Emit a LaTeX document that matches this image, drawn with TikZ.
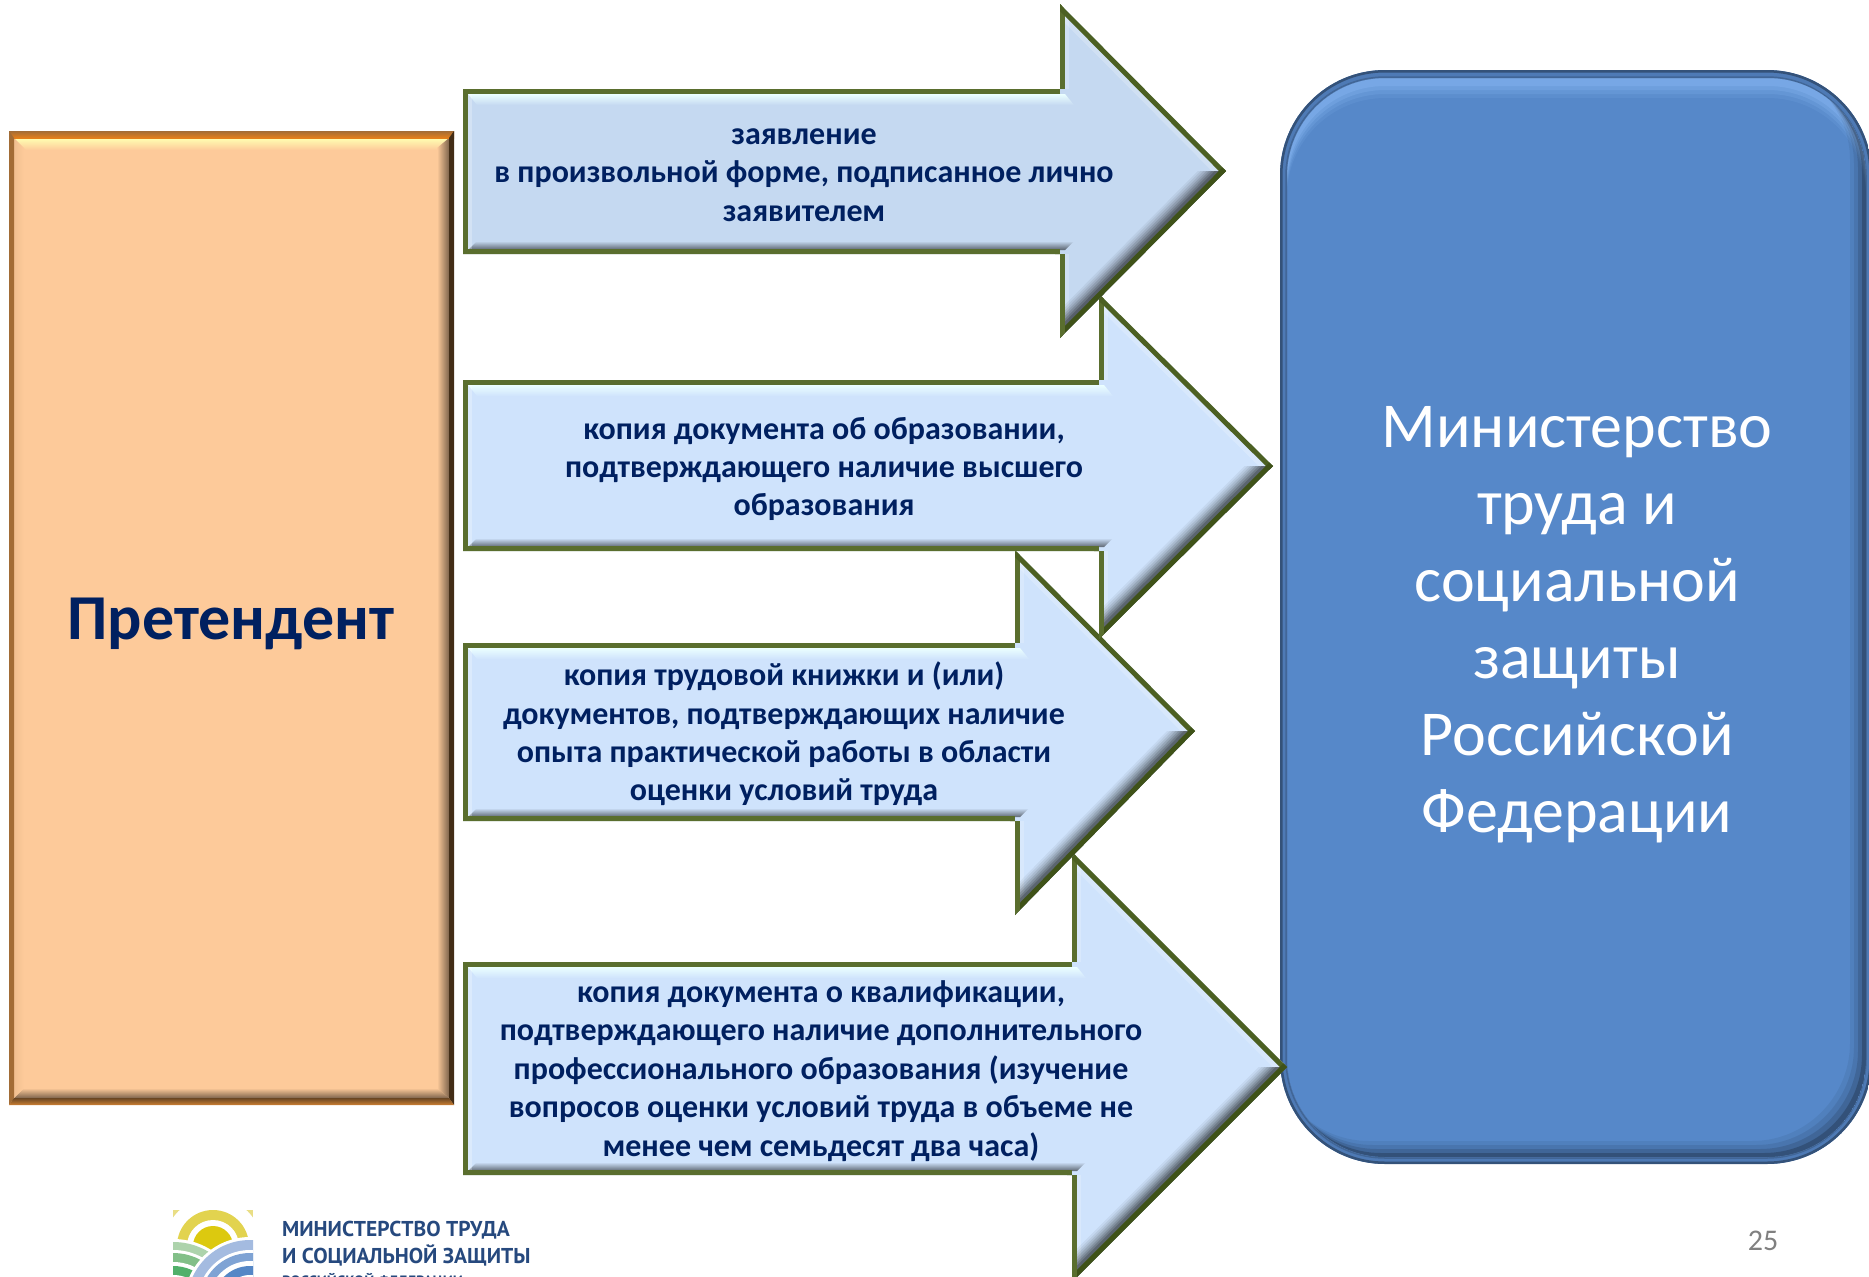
\documentclass[tikz,border=0pt]{standalone}
\usepackage{fontspec}
\setmainfont{Carlito}
\newfontfamily\logofont{PT Sans}
\definecolor{navy}{HTML}{002060}
\definecolor{arrowA}{HTML}{C5D9F1}
\definecolor{arrowB}{HTML}{CFE3FC}
\definecolor{olive}{HTML}{5A6E2E}
\definecolor{midolive}{HTML}{4C6022}
\definecolor{darkolive}{HTML}{3F5218}
\definecolor{peach}{HTML}{FDCA9A}
\definecolor{boxblue}{HTML}{5688C9}
\definecolor{boxlight}{HTML}{8CBCF8}
\definecolor{logoblue}{HTML}{26497E}
\tikzset{
  doctext/.style={font=\fontsize{32}{38.4}\selectfont\bfseries,text=navy,align=center},
  logotext/.style={text=logoblue,anchor=base west,inner sep=0pt},
}
% x0, top, bottom, head x, head top, head bottom, tip x, tip y, fill
\newcommand{\bevelarrow}[9]{
  \begin{scope}
    \clip (#1,#2) -- (#4,#2) -- (#4,#5) -- (#7,#8) -- (#4,#6) -- (#4,#3) -- (#1,#3) -- cycle;
    \fill[#9] (#1,#5) rectangle (#7,#6);
    \shade[top color=white!92!cyan,bottom color=#9] (#1+5,#2+5) -- (#4+5,#2+5) -- (#4+14,#2+16) -- (#1+14,#2+16) -- cycle;
    \shade[bottom color=black!55!#9,top color=#9] (#1+5,#3-4) -- (#4+5,#3-4) -- (#4+14,#3-13) -- (#1+14,#3-13) -- cycle;
    \draw[white,line width=18,opacity=.25] (#1,#2) -- (#1,#3);
    \draw[white,line width=18,opacity=.2] (#4,#5) -- (#4,#2);
    \draw[white,line width=18,opacity=.2] (#4,#6) -- (#4,#3);
    \draw[white,line width=20,opacity=.2] (#4,#5) -- (#7,#8);
    \begin{scope}
      \clip (#4,#8) -- (#7,#8) -- (#4,#6) -- cycle;
      \foreach \w/\o in {40/.05,36/.06,32/.08,28/.1,24/.12,20/.15,16/.18}{
      \draw[black,line width=\w,opacity=\o] (#4,#6) -- (#7,#8);
      }
    \end{scope}
    \draw[olive,line width=10] (#4,#2) -- (#1,#2) -- (#1,#3) -- (#4,#3);
    \draw[olive,line width=10] (#4,#2) -- (#4,#5);
    \draw[midolive,line width=10] (#4,#5) -- (#7,#8);
    \draw[darkolive,line width=10] (#7,#8) -- (#4,#6);
    \draw[olive,line width=10] (#4,#6) -- (#4,#3);
  \end{scope}
}
\begin{document}
\begin{tikzpicture}[x=1pt,y=-1pt]
  \useasboundingbox (0,0) rectangle (1869,1277);
  % applicant box
  \begin{scope}
    \clip (9,131) rectangle (454,1105);
    \fill[peach] (9,131) rectangle (454,1105);
    \shade[top color=white!70!yellow,bottom color=peach] (14,138) -- (449,138) -- (437,150) -- (26,150) -- cycle;
    \shade[left color=peach,right color=black!50!peach] (437,148) -- (449,138) -- (449,1098) -- (437,1088) -- cycle;
    \shade[top color=peach,bottom color=black!50!peach] (24,1088) -- (437,1088) -- (449,1098) -- (14,1098) -- cycle;
    \shade[left color=white!10!peach!80!brown,right color=peach] (14,138) -- (24,148) -- (24,1088) -- (14,1098) -- cycle;
    \shade[top color=brown!85!black,bottom color=orange!60!brown] (9,131) rectangle (454,138);
    \fill[brown!85!black] (9,131) -- (14,138) -- (14,1098) -- (9,1105) -- cycle;
    \fill[black!65!brown] (454,131) -- (449,138) -- (449,1098) -- (454,1105) -- cycle;
    \shade[top color=black!45!brown,bottom color=brown!80!orange] (14,1098) -- (449,1098) -- (454,1105) -- (9,1105) -- cycle;
  \end{scope}
  % ministry box
  \begin{scope}
    \clip[rounded corners=105] (1280,70) rectangle (1872,1164);
    \fill[boxblue!90!black] (1280,70) rectangle (1872,1164);
    \draw[boxblue!60!black,line width=5,rounded corners=105] (1280,70) rectangle (1872,1164);
    \draw[boxblue!75!black,line width=1.5,rounded corners=99] (1286,77) rectangle (1866,1158);
    \begin{scope}
      \clip[rounded corners=98] (1287,78) rectangle (1866,1157);
      \fill[boxblue] (1287,78) rectangle (1866,1157);
      \foreach \d/\o in {20/.12,16/.18,12/.25,8/.3}{
      \fill[boxlight,opacity=\o,even odd rule,rounded corners=98] (1287,78) rectangle (1866,1157) (1287,78+\d) rectangle (1866,1157+\d);
      }
      \foreach \d/\o in {16/.06,12/.08,8/.12,4/.2}{
      \fill[black,opacity=\o,even odd rule,rounded corners=98] (1287,78) rectangle (1866,1157) (1287-\d,78-\d) rectangle (1866-\d,1157-\d);
      }
    \end{scope}
  \end{scope}
  % arrows, lowest first
  \bevelarrow{463}{962}{1175}{1072}{852}{1282}{1287}{1067}{arrowB}
  \bevelarrow{463}{643}{821}{1015}{550}{915}{1195}{731}{arrowB}
  \bevelarrow{463}{380}{551}{1099}{294}{639}{1273}{466}{arrowB}
  \bevelarrow{463}{89}{254}{1060}{4}{338}{1226}{171}{arrowA}
  % texts
  \node[font=\fontsize{64}{77}\selectfont\bfseries,text=navy] (applicant) at (231,624) {Претендент};
  \node[font=\fontsize{64}{77}\selectfont,text=white,align=center] (ministry) at (1577,625) {Министерство\\труда и\\социальной\\защиты\\Российской\\Федерации};
  \node[doctext] (docA) at (804,175) {заявление\\в произвольной форме, подписанное лично\\заявителем};
  \node[doctext] (docB) at (824,469) {копия документа об образовании,\\подтверждающего наличие высшего\\образования};
  \node[doctext] (docC) at (784,734) {копия трудовой книжки и (или)\\документов, подтверждающих наличие\\опыта практической работы в области\\оценки условий труда};
  \node[doctext] (docD) at (821,1071) {копия документа о квалификации,\\подтверждающего наличие дополнительного\\профессионального образования (изучение\\вопросов оценки условий труда в объеме не\\менее чем семьдесят два часа)};
  \node[font=\fontsize{30}{36}\selectfont,text=black!50] (pagenum) at (1763,1241) {25};
  % logo
  \definecolor{sunA}{HTML}{E9DE85}
  \definecolor{sunB}{HTML}{E2D34F}
  \definecolor{sunC}{HTML}{DCC90F}
  \definecolor{hillA}{HTML}{ADD3AC}
  \definecolor{hillB}{HTML}{82BF88}
  \definecolor{hillC}{HTML}{51B06A}
  \definecolor{waveA}{HTML}{A4BBE0}
  \definecolor{waveB}{HTML}{7FA3D4}
  \definecolor{waveC}{HTML}{5587C6}
  \begin{scope}
    \clip (173,1210) rectangle (253,1277);
    \fill[sunA] (173,1210) rectangle (253,1277);
    \fill[white] (213,1246) circle[radius=49];
    \fill[sunB] (213,1246) circle[radius=36];
    \fill[white] (213,1246) circle[radius=26];
    \fill[sunC] (213,1246) circle[radius=20];
    \fill[white] (173.3,1310) circle[radius=71];
    \fill[hillA] (173.3,1310) circle[radius=68];
    \fill[white] (173.3,1310) circle[radius=60];
    \fill[hillB] (173.3,1310) circle[radius=57];
    \fill[white] (173.3,1310) circle[radius=48];
    \fill[hillC] (173.3,1310) circle[radius=44];
    \fill[white] (173.3,1310) circle[radius=35];
    \fill[white] (250,1303) circle[radius=66];
    \fill[waveA] (250,1303) circle[radius=63];
    \fill[white] (250,1303) circle[radius=53];
    \fill[waveB] (250,1303) circle[radius=50];
    \fill[white] (250,1303) circle[radius=42];
    \fill[waveC] (250,1303) circle[radius=37];
    \fill[white] (250,1303) circle[radius=28];
  \end{scope}
  \node[logotext,font=\logofont\bfseries\fontsize{21.5}{25}\selectfont] (logoA) at (282,1236) {МИНИСТЕРСТВО ТРУДА};
  \node[logotext,font=\logofont\bfseries\fontsize{21.5}{25}\selectfont] (logoB) at (282,1263) {И СОЦИАЛЬНОЙ ЗАЩИТЫ};
  \node[logotext,font=\logofont\bfseries\fontsize{15}{18}\selectfont] (logoC) at (282,1286) {РОССИЙСКОЙ ФЕДЕРАЦИИ};
\end{tikzpicture}
\end{document}
